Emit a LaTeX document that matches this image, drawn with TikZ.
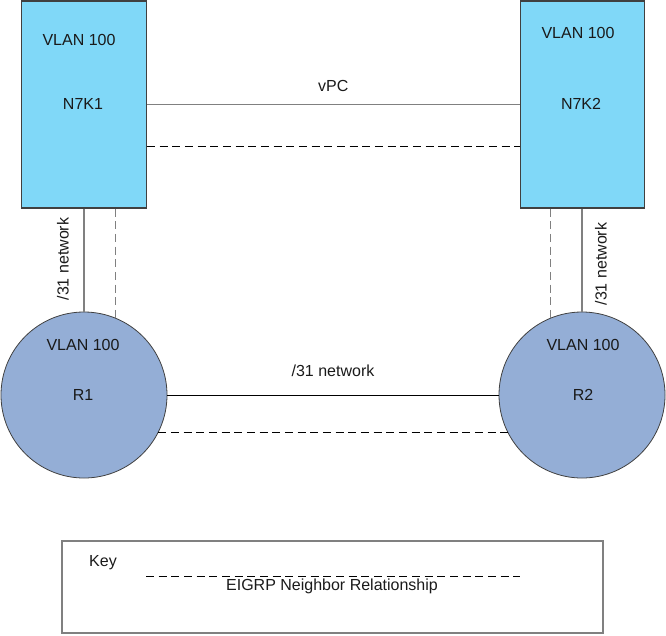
\documentclass[tikz,border=0pt]{standalone}
\usepackage{fontspec}
\setmainfont{Liberation Sans}
\usetikzlibrary{positioning,calc}
\definecolor{switchfill}{RGB}{128,216,248}
\definecolor{routerfill}{RGB}{148,174,214}
\definecolor{edgegray}{RGB}{64,64,64}
\definecolor{linkgray}{RGB}{128,128,128}
\definecolor{txt}{RGB}{26,26,26}

\begin{document}
\begin{tikzpicture}[x=0.75pt,y=-0.75pt,
  every node/.style={font=\fontsize{12}{14}\selectfont,text=txt},
  switchbox/.style={draw=edgegray,fill=switchfill,line width=0.8pt,inner sep=0pt,minimum width=93.5pt,minimum height=155.25pt},
  routerdisc/.style={circle,draw=edgegray,fill=routerfill,line width=0.6pt,inner sep=0pt,minimum size=124.5pt},
  graylink/.style={draw=linkgray,line width=1pt},
  blacklink/.style={draw=black,line width=0.7pt},
  eigrp/.style={dash pattern=on 6pt off 3.5pt,line width=0.7pt},
  graydash/.style={eigrp,draw=linkgray,line width=1pt}]
\useasboundingbox (0,0) rectangle (666,635);

% switches
\node[switchbox] (n7ka) at (84,104.5) {};
\node[switchbox] (n7kb) at (582.5,104.5) {};
\node at (79,40) {VLAN 100};
\node at (83,104) {N7K1};
\node at (578,33) {VLAN 100};
\node at (581,104) {N7K2};

% routers
\node[routerdisc] (ra) at (84,395) {};
\node[routerdisc] (rb) at (582,395) {};
\node at (83,345) {VLAN 100};
\node at (83,395) {R1};
\node at (583,345) {VLAN 100};
\node at (583,395) {R2};

% links
\draw[graylink] (n7ka.east) -- node[above=6pt] {vPC} (n7kb.west);
\draw[eigrp] ($(n7ka.east)+(0,42)$) -- ($(n7kb.west)+(0,42)$);
\draw[graylink] (n7ka.south) -- (ra.north);
\node[rotate=90] at ($(n7ka.south)!0.5!(ra.north)+(-21,-1)$) {/31 network};
\draw[graydash] (n7ka.south -| ra.68) -- (ra.68);
\draw[graylink] (rb.north |- n7kb.south) -- (rb.north);
\node[rotate=90] at ($(n7kb.south -| rb.north)!0.5!(rb.north)+(19,4)$) {/31 network};
\draw[graydash] (rb.112 |- n7kb.south) -- (rb.112);
\draw[blacklink] (ra.east) -- node[above=10pt] {/31 network} (rb.west);
\draw[eigrp] (ra.-27) -- (rb.-153);

% key
\node[draw=linkgray,line width=0.8pt,inner sep=0pt,minimum width=405.75pt,minimum height=69pt] (keybox) at (332.5,587) {};
\node at (103,563) {Key};
\coordinate (keyl) at (146,576);
\coordinate (keyr) at (520,576);
\draw[eigrp] (keyl) -- (keyr);
\node at (332,586) {EIGRP Neighbor Relationship};
\end{tikzpicture}
\end{document}
